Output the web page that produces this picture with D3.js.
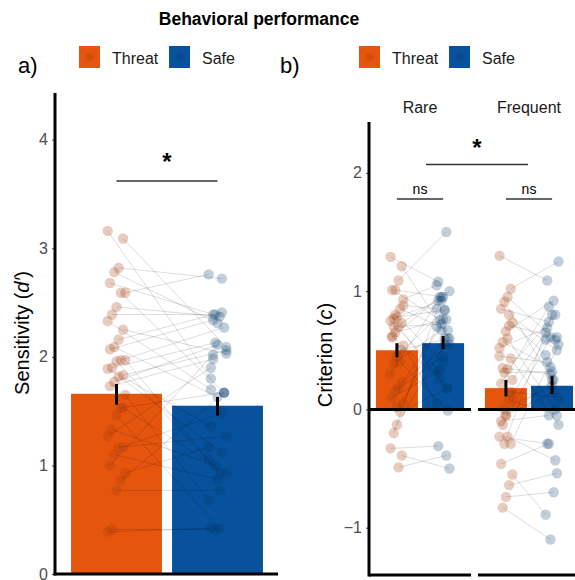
<!DOCTYPE html>
<html><head><meta charset="utf-8">
<script src="https://cdn.jsdelivr.net/npm/d3@7"></script>
<style>body{margin:0;background:#fff}svg{display:block}text{font-family:"Liberation Sans",Arial,sans-serif}</style>
</head><body>
<script>
// ---------- data ----------
const conditions = ["Threat", "Safe"];
const frequencies = ["Rare", "Frequent"];
const colors = ["#E6550D", "#08519C"];

// panel a: sensitivity d'
const dThreat = [3.16,3.09,2.82,2.78,2.68,2.59,2.59,2.46,2.39,2.33,2.25,2.16,2.09,2.07,1.97,1.97,1.96,1.90,1.89,1.83,1.82,1.77,1.73,1.65,1.53,1.46,1.33,1.27,1.17,1.16,1.10,1.00,0.93,0.86,0.77,0.41,0.39,1.53];
const dSafe   = [1.80,2.09,2.72,2.31,2.39,2.76,1.67,2.37,2.39,1.70,2.03,2.41,1.63,2.34,1.05,2.27,0.93,2.13,1.36,2.06,1.12,2.11,1.98,0.68,1.67,0.42,1.00,1.90,1.27,1.48,0.87,2.02,1.17,1.67,0.77,0.41,0.42,0.93];
const dMean = [1.66, 1.55];
const dErrLo = [1.56, 1.46];
const dErrHi = [1.75, 1.63];
const yTicksA = [0, 1, 2, 3, 4];

// panel b: criterion c
const rareThreat = [1.29,1.21,1.09,1.01,1.01,0.93,0.85,0.78,0.77,0.75,0.73,0.70,0.65,0.61,0.54,0.50,0.45,0.39,0.30,0.23,0.18,0.16,0.10,0.05,-0.02,-0.13,-0.20,-0.33,-0.39,-0.49,0.80,0.62,0.88,0.40,0.02,0.70];
const rareSafe   = [1.08,0.60,1.50,0.95,0.76,1.05,0.67,0.84,0.92,0.33,1.00,0.18,0.76,0.95,0.05,0.60,0.84,0.67,0.92,0.55,0.76,0.45,0.33,0.70,0.18,0.55,0.95,-0.31,-0.50,-0.39,0.40,0.25,0.85,-0.01,0.60,0.72];
const freqThreat = [1.30,1.02,0.95,0.91,0.85,0.73,0.71,0.66,0.57,0.52,0.43,0.34,0.31,0.22,0.12,0.08,-0.05,-0.13,-0.23,-0.29,-0.23,-0.29,-0.46,-0.55,-0.64,-0.74,-0.83,0.45,0.15,0.60,0.00,-0.10,0.25,0.80,-0.05,0.35];
const freqSafe   = [1.09,1.25,0.59,0.25,0.74,0.46,0.61,0.92,0.36,0.69,-0.13,0.80,0.32,0.87,0.59,-0.05,0.25,0.61,-0.29,0.55,-0.43,0.80,-0.29,-0.89,-0.54,-0.70,-1.10,0.40,0.10,0.00,0.20,-0.05,0.65,0.50,0.15,0.30];
const cMeanRare = [0.50, 0.56];
const cMeanFreq = [0.18, 0.20];
const cErrLoRare = [0.44, 0.51];
const cErrHiRare = [0.56, 0.62];
const cErrLoFreq = [0.11, 0.13];
const cErrHiFreq = [0.25, 0.28];
const yTicksB = [-1, 0, 1, 2];

// ---------- drawing ----------
const W = 575, H = 580;
const svg = d3.select("body").append("svg").attr("width", W).attr("height", H);
svg.append("rect").attr("width", W).attr("height", H).attr("fill", "#fff");

const jit = (i, a) => (((i * 7) % 9) - 4) * a;

svg.append("text").attr("x", 259).attr("y", 25).attr("text-anchor", "middle")
  .attr("font-size", 17.5).attr("font-weight", "bold").text("Behavioral performance");

function legend(x0) {
  const g = svg.append("g");
  const xs = [x0, x0 + 90];
  conditions.forEach((c, i) => {
    g.append("rect").attr("x", xs[i]).attr("y", 46).attr("width", 21).attr("height", 22).attr("fill", colors[i]);
    g.append("circle").attr("cx", xs[i] + 10.5).attr("cy", 57).attr("r", 4).attr("fill", "#000").attr("opacity", 0.08);
    g.append("text").attr("x", xs[i] + 33).attr("y", 64).attr("font-size", 16).attr("fill", "#1a1a1a").text(c);
  });
}
legend(79);
legend(359);
svg.append("text").attr("x", 18).attr("y", 73).attr("font-size", 22).text("a)");
svg.append("text").attr("x", 280).attr("y", 73).attr("font-size", 22).text("b)");

const ptOpacity = [0.2, 0.18];
function drawPaired(g, xs, tArr, sArr, yS, jAmt) {
  tArr.forEach((t, i) => {
    g.append("line").attr("x1", xs[0] + jit(i, jAmt)).attr("y1", yS(t))
      .attr("x2", xs[1] + jit(i + 4, jAmt)).attr("y2", yS(sArr[i]))
      .attr("stroke", "#000").attr("stroke-opacity", 0.2).attr("stroke-width", 0.7);
  });
  [tArr, sArr].forEach((arr, k) => {
    arr.forEach((v, i) => {
      const cx = xs[k] + jit(i + 4 * k, jAmt), cy = yS(v);
      g.append("circle").attr("cx", cx).attr("cy", cy).attr("r", 5.2)
        .attr("fill", colors[k]).attr("fill-opacity", ptOpacity[k]);
      g.append("circle").attr("cx", cx).attr("cy", cy).attr("r", 5.2)
        .attr("fill", "#000").attr("fill-opacity", 0.075);
    });
  });
}

// ---- panel a ----
const yA = d3.scaleLinear().domain([0, 4.43]).range([574, 93]);
const xA = d3.scaleBand().domain(conditions).range([66, 268]).paddingInner(0.1).paddingOuter(0.05);
const gA = svg.append("g");
gA.selectAll("rect.bar").data(conditions).join("rect")
  .attr("x", d => xA(d)).attr("width", xA.bandwidth())
  .attr("y", (d, i) => yA(dMean[i])).attr("height", (d, i) => yA(0) - yA(dMean[i]))
  .attr("fill", (d, i) => colors[i]);
drawPaired(gA, conditions.map(c => xA(c) + xA.bandwidth() / 2), dThreat, dSafe, yA, 2.2);
conditions.forEach((c, i) => {
  gA.append("line").attr("x1", xA(c) + xA.bandwidth() / 2).attr("x2", xA(c) + xA.bandwidth() / 2)
    .attr("y1", yA(dErrLo[i])).attr("y2", yA(dErrHi[i])).attr("stroke", "#000").attr("stroke-width", 3);
});
const axA = gA.append("g").attr("transform", "translate(55,0)")
  .call(d3.axisLeft(yA).tickValues(yTicksA).tickSize(3).tickPadding(4).tickFormat(d3.format("d")));
axA.select(".domain").remove();
axA.selectAll("text").attr("font-size", 16).attr("fill", "#4D4D4D");
axA.selectAll("line").attr("stroke", "#4D4D4D");
gA.append("line").attr("x1", 55).attr("x2", 55).attr("y1", 93).attr("y2", 575.5).attr("stroke", "#000").attr("stroke-width", 3);
gA.append("line").attr("x1", 53.5).attr("x2", 278).attr("y1", 574).attr("y2", 574).attr("stroke", "#000").attr("stroke-width", 3);
// significance
const sx1 = xA("Threat") + xA.bandwidth() / 2, sx2 = xA("Safe") + xA.bandwidth() / 2;
gA.append("line").attr("x1", sx1).attr("x2", sx2).attr("y1", yA(3.62)).attr("y2", yA(3.62)).attr("stroke", "#333").attr("stroke-width", 1.5);
gA.append("text").attr("x", (sx1 + sx2) / 2).attr("y", yA(3.62) - 11).attr("text-anchor", "middle").attr("font-size", 24).attr("font-weight", "bold").text("*");
svg.append("text").attr("transform", "translate(29,333) rotate(-90)").attr("text-anchor", "middle").attr("font-size", 20)
  .html('Sensitivity (<tspan font-style="italic">d′</tspan>)');

// ---- panel b ----
const yB = d3.scaleLinear().domain([-1.4, 2.43]).range([575, 122]);
const fx = d3.scaleBand().domain(frequencies).range([369, 580]).paddingInner(7 / 109).paddingOuter(0);
const xIn = d3.scaleBand().domain(conditions).range([0, fx.bandwidth()]).paddingInner(0.09).paddingOuter(0.15);
const gB = svg.append("g");
const means = [cMeanRare, cMeanFreq], lo = [cErrLoRare, cErrLoFreq], hi = [cErrHiRare, cErrHiFreq];
const pts = [[rareThreat, rareSafe], [freqThreat, freqSafe]];
frequencies.forEach((f, fi) => {
  const g = gB.append("g").attr("transform", `translate(${fx(f)},0)`);
  g.selectAll("rect").data(conditions).join("rect")
    .attr("x", d => xIn(d)).attr("width", xIn.bandwidth())
    .attr("y", (d, i) => yB(Math.max(0, means[fi][i]))).attr("height", (d, i) => Math.abs(yB(0) - yB(means[fi][i])))
    .attr("fill", (d, i) => colors[i]);
  drawPaired(g, conditions.map(c => xIn(c) + xIn.bandwidth() / 2), pts[fi][0], pts[fi][1], yB, 1.6);
  conditions.forEach((c, i) => {
    g.append("line").attr("x1", xIn(c) + xIn.bandwidth() / 2).attr("x2", xIn(c) + xIn.bandwidth() / 2)
      .attr("y1", yB(lo[fi][i])).attr("y2", yB(hi[fi][i])).attr("stroke", "#000").attr("stroke-width", 3);
  });
  g.append("line").attr("x1", 0).attr("x2", fx.bandwidth()).attr("y1", yB(0)).attr("y2", yB(0)).attr("stroke", "#000").attr("stroke-width", 3);
  g.append("line").attr("x1", 0).attr("x2", fx.bandwidth()).attr("y1", 575).attr("y2", 575).attr("stroke", "#000").attr("stroke-width", 3);
  g.append("text").attr("x", fx.bandwidth() / 2).attr("y", 113).attr("text-anchor", "middle").attr("font-size", 16).attr("fill", "#1a1a1a").text(f);
  // ns
  const n1 = xIn("Threat") + xIn.bandwidth() / 2, n2 = xIn("Safe") + xIn.bandwidth() / 2;
  g.append("line").attr("x1", n1).attr("x2", n2).attr("y1", yB(1.78)).attr("y2", yB(1.78)).attr("stroke", "#333").attr("stroke-width", 1.5);
  g.append("text").attr("x", (n1 + n2) / 2).attr("y", yB(1.78) - 5).attr("text-anchor", "middle").attr("font-size", 14).text("ns");
});
const axB = gB.append("g").attr("transform", "translate(369,0)")
  .call(d3.axisLeft(yB).tickValues(yTicksB).tickSize(3).tickPadding(4).tickFormat(d => d < 0 ? "−" + Math.abs(d) : d));
axB.select(".domain").remove();
axB.selectAll("text").attr("font-size", 16).attr("fill", "#4D4D4D");
axB.selectAll("line").attr("stroke", "#4D4D4D");
gB.append("line").attr("x1", 369).attr("x2", 369).attr("y1", 122).attr("y2", 576.5).attr("stroke", "#000").attr("stroke-width", 3);
const bx1 = fx("Rare") + 57, bx2 = fx("Frequent") + 50;
gB.append("line").attr("x1", bx1).attr("x2", bx2).attr("y1", yB(2.07)).attr("y2", yB(2.07)).attr("stroke", "#333").attr("stroke-width", 1.5);
gB.append("text").attr("x", (bx1 + bx2) / 2).attr("y", yB(2.07) - 9).attr("text-anchor", "middle").attr("font-size", 24).attr("font-weight", "bold").text("*");
svg.append("text").attr("transform", "translate(332,355) rotate(-90)").attr("text-anchor", "middle").attr("font-size", 20)
  .html('Criterion (<tspan font-style="italic">c</tspan>)');
</script>
</body></html>
